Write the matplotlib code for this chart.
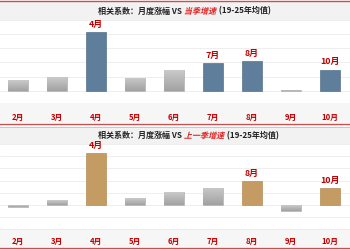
import matplotlib
matplotlib.use('Agg')
import matplotlib.pyplot as plt
import numpy as np
from matplotlib.patches import Rectangle, PathPatch
from matplotlib.textpath import TextPath
from matplotlib.font_manager import FontProperties
from matplotlib.transforms import Affine2D, blended_transform_factory, IdentityTransform
from matplotlib.colors import LinearSegmentedColormap

plt.rcParams['font.family'] = ['Noto Sans CJK SC', 'DejaVu Sans']

# ---------------- data ----------------
months = ['2月', '3月', '4月', '5月', '6月', '7月', '8月', '9月', '10月']
corr_current = [0.073, 0.097, 0.414, 0.092, 0.148, 0.193, 0.210, 0.007, 0.148]
corr_prev = [-0.016, 0.038, 0.426, 0.057, 0.104, 0.142, 0.194, -0.049, 0.137]
hl_current = ['4月', '7月', '8月', '10月']
hl_prev = ['4月', '8月', '10月']
title_pre = '相关系数：月度涨幅 VS '
title_kw_top = '当季增速'
title_kw_bot = '上一季增速'
title_post = ' (19-25年均值)'
grid_ticks = [-0.2, -0.1, 0.0, 0.1, 0.2, 0.3, 0.4, 0.5]

W, H = 350, 250
RED = '#c00000'
LINE_RED = '#c9504f'
BAND = '#f2f2f2'

fig = plt.figure(figsize=(W / 100, H / 100), dpi=100)
fig.patch.set_facecolor('white')


def fy(y):
    return 1 - y / H


def band(y0, y1, color):
    fig.patches.append(Rectangle((0, fy(y1)), 1, (y1 - y0) / H, transform=fig.transFigure,
                                 facecolor=color, edgecolor='none', zorder=-5))


def hline(y, color, lw):
    fig.add_artist(plt.Line2D([0, 1], [fy(y), fy(y)], transform=fig.transFigure,
                              color=color, lw=lw, zorder=5))


gray_cmap = LinearSegmentedColormap.from_list('g', ['#a2a2a2', '#cacaca'])


def panel(top_px, bot_px, ylim, vals, hl, color, edge, label_y, title_y, kw):
    ax = fig.add_axes([0, fy(bot_px), 1, (bot_px - top_px) / H])
    ax.set_facecolor('none')
    for i, (m, v) in enumerate(zip(months, vals)):
        if m in hl:
            ax.bar(i, v, width=0.51, color=color, edgecolor=edge, lw=0.5, zorder=3)
            ax.annotate(m, (i, v), xytext=(0, 2.5), textcoords='offset points',
                        ha='center', va='bottom', color=RED, fontsize=6.4,
                        fontweight='bold', annotation_clip=False, zorder=10)
        else:
            b = ax.bar(i, v, width=0.51, color='#b4b4b4', edgecolor='#aaaaaa', lw=0.4, zorder=3)[0]
            y0, y1 = min(0, v), max(0, v)
            grad = np.linspace(0, 1, 50).reshape(-1, 1)
            im = ax.imshow(grad, extent=[i - 0.255, i + 0.255, y0, y1], origin='lower',
                           aspect='auto', cmap=gray_cmap, zorder=3.5)
            im.set_clip_path(b)
    ax.set_xlim(-17.7 / 39, (W - 17.7) / 39)
    ax.set_ylim(*ylim)
    ax.set_yticks([t for t in grid_ticks if ylim[0] <= t <= ylim[1]])
    ax.yaxis.grid(True, color='#ebebeb', lw=0.6, zorder=0)
    ax.set_axisbelow(True)
    ax.tick_params(left=False, bottom=False, labelleft=False, labelbottom=False)
    for s in ax.spines.values():
        s.set_visible(False)
    tr = blended_transform_factory(ax.transData, fig.transFigure)
    for i, m in enumerate(months):
        ax.text(i, fy(label_y), m, transform=tr, ha='center', va='center', color=RED,
                fontsize=5.6, fontweight='bold', clip_on=False)
    # title (three parts, middle one red and slanted)
    fs = 5.8
    t1 = fig.text(98 / W, fy(title_y), title_pre, ha='left', va='center', fontsize=fs,
                  fontweight='bold', color='#222222')
    fig.canvas.draw()
    bb = t1.get_window_extent()
    prop = FontProperties(family='Noto Sans CJK SC', weight='bold')
    size_px = fs * 100 / 72
    tp = TextPath((0, 0), kw, size=size_px, prop=prop)
    ext = tp.get_extents()
    cy = fy(title_y) * H
    trans = Affine2D().skew_deg(14, 0).translate(bb.x1, cy - size_px * 0.36)
    fig.add_artist(PathPatch(tp, transform=trans + IdentityTransform(), facecolor='#e02020',
                             edgecolor='none', lw=0))
    fig.text((bb.x1 + ext.x1 + 1) / W, fy(title_y), title_post, ha='left', va='center',
             fontsize=fs, fontweight='bold', color='#222222')
    return ax


# backgrounds and frame lines
band(2, 20, BAND)
band(103, 123, '#f6f6f6')
band(127, 144, BAND)
band(229, 247, '#f6f6f6')
hline(1.3, LINE_RED, 1.0)
hline(124, LINE_RED, 1.0)
hline(126.5, '#e8b0b0', 0.6)
hline(247.8, LINE_RED, 1.0)

panel(20, 105, (-0.1, 0.5), corr_current, hl_current, '#5f7e9b', '#56728c', 117, 11, title_kw_top)
panel(144, 230, (-0.205, 0.5), corr_prev, hl_prev, '#c49b62', '#b38d59', 241, 135.5, title_kw_bot)

fig.savefig('out.png', dpi=100)
